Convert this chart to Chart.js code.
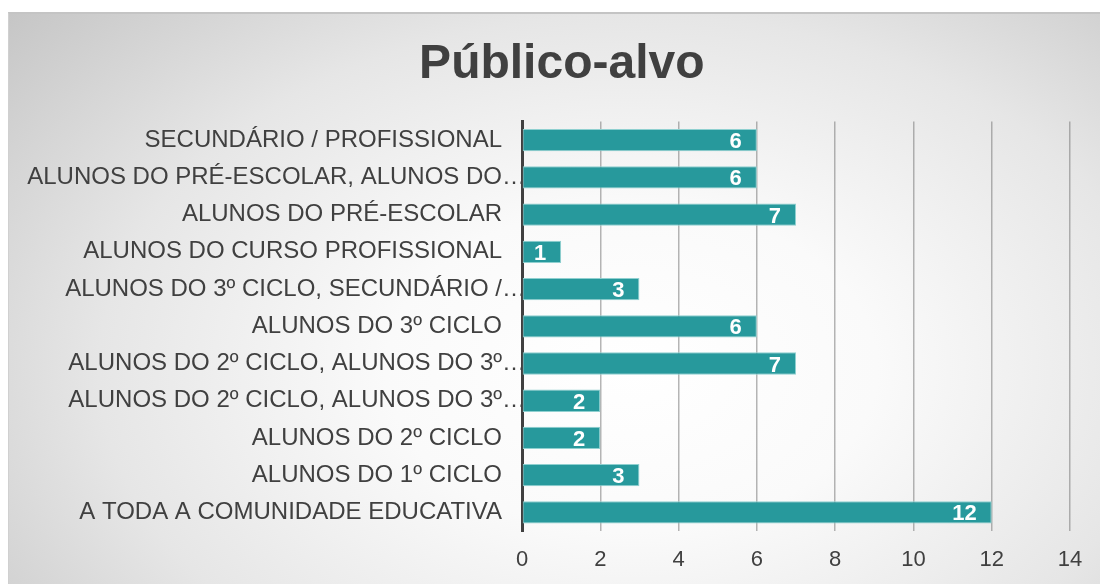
<!DOCTYPE html>
<html>
<head>
<meta charset="utf-8">
<script src="https://cdn.jsdelivr.net/npm/chart.js@4.4.1/dist/chart.umd.min.js"></script>
<style>
  html, body { margin: 0; padding: 0; background: #fff; width: 1100px; height: 584px; overflow: hidden; }
  #frame {
    position: absolute; left: 8px; top: 12px; width: 1092px; height: 572px;
    border-top: 2px solid #c4c4c4; border-left: 1px solid #d0d0d0;
    background: radial-gradient(ellipse 75% 95% at 57% 62%, #ffffff 0%, #fafafa 30%, #e6e6e6 65%, #c6c6c6 100%);
  }
  #wrap { position: absolute; left: 0; top: 0; width: 1100px; height: 584px; }
</style>
</head>
<body>
<div id="frame"></div>
<div id="wrap"><canvas id="chart" width="1100" height="584"></canvas></div>
<script>
// Público-alvo, top to bottom
const categorias = [
  'SECUNDÁRIO / PROFISSIONAL',
  'ALUNOS DO PRÉ-ESCOLAR, ALUNOS DO…',
  'ALUNOS DO PRÉ-ESCOLAR',
  'ALUNOS DO CURSO PROFISSIONAL',
  'ALUNOS DO 3º CICLO, SECUNDÁRIO /…',
  'ALUNOS DO 3º CICLO',
  'ALUNOS DO 2º CICLO, ALUNOS DO 3º…',
  'ALUNOS DO 2º CICLO, ALUNOS DO 3º…',
  'ALUNOS DO 2º CICLO',
  'ALUNOS DO 1º CICLO',
  'A TODA A COMUNIDADE EDUCATIVA'
];
const valores = [6, 6, 7, 1, 3, 6, 7, 2, 2, 3, 12];
const eixoMin = 0;
const eixoMax = 14;
const passo = 2;
const titulo = 'Público-alvo';

// rótulos brancos dentro da ponta das barras
const rotulosBarras = {
  id: 'rotulosBarras',
  afterDatasetsDraw(chart) {
    const ctx = chart.ctx;
    const meta = chart.getDatasetMeta(0);
    ctx.save();
    ctx.font = 'bold 22px "Liberation Sans", Arial, sans-serif';
    ctx.fillStyle = '#ffffff';
    ctx.textAlign = 'right';
    ctx.textBaseline = 'middle';
    meta.data.forEach((bar, i) => {
      ctx.fillText(valores[i], bar.x - 15, bar.y + 2);
    });
    ctx.restore();
  }
};

new Chart(document.getElementById('chart'), {
  type: 'bar',
  data: {
    labels: categorias,
    datasets: [{
      data: valores,
      backgroundColor: '#27999c',
      borderColor: '#8fd0d0',
      borderWidth: 1,
      borderSkipped: false,
      barPercentage: 0.6,
      categoryPercentage: 1
    }]
  },
  options: {
    indexAxis: 'y',
    responsive: false,
    animation: false,
    devicePixelRatio: 1,
    layout: { padding: { left: 20, right: 30, top: 0, bottom: 0 } },
    plugins: {
      legend: { display: false },
      tooltip: { enabled: false },
      title: {
        display: true,
        // espaço inicial empurra o título um pouco para a direita, como no original
        text: '\u2002\u2009' + titulo,
        color: '#404040',
        font: { family: '"Liberation Sans", Arial, sans-serif', size: 48, weight: 'bold' },
        padding: { top: 36, bottom: 28 }
      }
    },
    scales: {
      x: {
        min: eixoMin,
        max: eixoMax,
        ticks: {
          stepSize: passo,
          color: '#404040',
          padding: 16,
          font: { family: '"Liberation Sans", Arial, sans-serif', size: 22 }
        },
        grid: { color: 'rgba(120,120,120,0.55)', lineWidth: 1.5, drawTicks: false },
        border: { display: false },
        afterFit: (scale) => { scale.height = 53; }
      },
      y: {
        ticks: {
          color: '#404040',
          padding: -4,
          autoSkip: false,
          font: { family: '"Liberation Sans", Arial, sans-serif', size: 24 },
          // as reticências do Excel passam por baixo do eixo; os outros acabam antes
          callback: function (value) {
            const txt = this.getLabelForValue(value);
            return txt.endsWith('…') ? txt : txt + '\u2003';
          }
        },
        grid: { display: false, drawTicks: false },
        border: { display: true, color: '#404040', width: 3 },
        afterFit: (scale) => { scale.width = 502; }
      }
    }
  },
  plugins: [rotulosBarras]
});
</script>
</body>
</html>
